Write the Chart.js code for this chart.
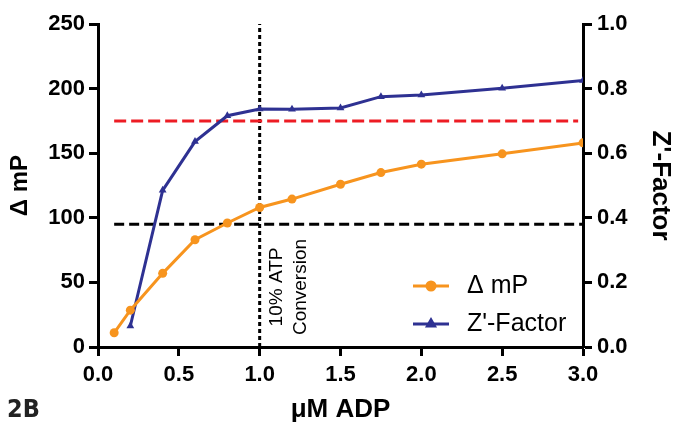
<!DOCTYPE html>
<html lang="en">
<head>
    <meta charset="utf-8">
    <title>Delta mP and Z'-Factor vs ADP</title>
    <script src="https://cdn.jsdelivr.net/npm/chart.js"></script>
    <style>
        html, body { margin: 0; padding: 0; background: #fff; }
    </style>
</head>
<body>
  <canvas id="myChart" width="678" height="426"></canvas>

  <script>

    // values
    const adp = [0.1, 0.2, 0.4, 0.6, 0.8, 1.0, 1.2, 1.5, 1.75, 2.0, 2.5, 3.0];
    const deltaMP = [11, 28.5, 57, 83, 96, 108, 114.5, 126, 135, 141.5, 149.5, 158];

    const zAdp = [0.2, 0.4, 0.6, 0.8, 1.0, 1.2, 1.5, 1.75, 2.0, 2.5, 3.0];
    const zFactor = [0.065, 0.485, 0.636, 0.716, 0.737, 0.736, 0.740, 0.775, 0.780, 0.801, 0.825];

    // reference lines
    const zCutoffX = [0.1, 2.97];   // red, on the mP axis
    const zCutoffY = 175;
    const mpCutoffX = [0.1, 3.0];   // black
    const mpCutoffY = 95;
    const conversionX = 1.0;        // 10% ATP conversion
    const conversionY = [0, 250];

    const xTicks = [0, 0.5, 1.0, 1.5, 2.0, 2.5, 3.0];
    const leftTicks = [0, 50, 100, 150, 200, 250];
    const rightTicks = [0, 0.2, 0.4, 0.6, 0.8, 1.0];

    const orange = '#F7941E';
    const blue = '#2E3192';
    const red = '#ED1C24';
    const fam = "'Liberation Sans', Arial, Helvetica, sans-serif";

    const pairs = (xs, ys) => xs.map((x, i) => ({ x: x, y: Array.isArray(ys) ? ys[i] : ys }));

    const axisGrid = { drawOnChartArea: false, drawTicks: true, tickLength: 9, tickWidth: 3, color: '#000' };
    const axisBorder = { display: true, width: 3, color: '#000' };
    const tickFont = { family: fam, size: 22, weight: 'bold' };

    // legend, annotation and panel label
    const extras = {
        id: 'extras',
        afterDatasetsDraw(chart) {
            const ctx = chart.ctx;
            ctx.save();

            // legend rows
            const rows = [
                { label: '\u0394 mP', color: orange, style: 'circle', y: 286 },
                { label: "Z'-Factor", color: blue, style: 'triangle', y: 324 }
            ];
            rows.forEach(r => {
                ctx.strokeStyle = r.color;
                ctx.fillStyle = r.color;
                ctx.lineWidth = 3;
                ctx.beginPath();
                ctx.moveTo(413, r.y);
                ctx.lineTo(449, r.y);
                ctx.stroke();
                Chart.helpers.drawPoint(ctx, { pointStyle: r.style, radius: 4, borderWidth: 1 }, 431, r.y);
                ctx.fillStyle = '#000';
                ctx.font = '25px ' + fam;
                ctx.textAlign = 'left';
                ctx.textBaseline = 'middle';
                ctx.fillText(r.label, 467, r.y);
            });

            // vertical note next to the dotted line
            ctx.save();
            ctx.translate(277, 287);
            ctx.rotate(-Math.PI / 2);
            ctx.font = '19px ' + fam;
            ctx.textAlign = 'center';
            ctx.textBaseline = 'middle';
            ctx.fillStyle = '#000';
            ctx.fillText('10% ATP', 0, 0);
            ctx.fillText('Conversion', 0, 24);
            ctx.restore();

            // panel label
            ctx.font = "bold 25px 'Liberation Sans Narrow', 'DejaVu Sans Condensed', " + fam;
            ctx.textAlign = 'left';
            ctx.textBaseline = 'middle';
            ctx.fillStyle = '#222';
            ctx.fillText('2B', 7, 410);

            ctx.restore();
        }
    };

    new Chart(document.getElementById('myChart'), {
        type: 'line',
        data: {
            datasets: [
                {
                    label: '\u0394 mP',
                    data: pairs(adp, deltaMP),
                    yAxisID: 'y',
                    borderColor: orange,
                    backgroundColor: orange,
                    borderWidth: 3,
                    pointStyle: 'circle',
                    pointRadius: 4.5,
                    pointBorderWidth: 0,
                    order: 0
                },
                {
                    label: "Z'-Factor",
                    data: pairs(zAdp, zFactor),
                    yAxisID: 'y2',
                    borderColor: blue,
                    backgroundColor: blue,
                    borderWidth: 3,
                    pointStyle: 'triangle',
                    pointRadius: 4.5,
                    pointBorderWidth: 0,
                    order: 0
                },
                {
                    label: 'cutoff red',
                    data: pairs(zCutoffX, zCutoffY),
                    yAxisID: 'y',
                    borderColor: red,
                    borderWidth: 3,
                    borderDash: [12, 5],
                    pointRadius: 0,
                    order: 1
                },
                {
                    label: 'cutoff black',
                    data: pairs(mpCutoffX, mpCutoffY),
                    yAxisID: 'y',
                    borderColor: '#000',
                    borderWidth: 3,
                    borderDash: [10, 5],
                    pointRadius: 0,
                    order: 1
                },
                {
                    label: 'conversion',
                    data: pairs([conversionX, conversionX], conversionY),
                    yAxisID: 'y',
                    borderColor: '#000',
                    borderWidth: 3,
                    borderDash: [4, 3],
                    pointRadius: 0,
                    order: 1
                }
            ]
        },
        options: {
            responsive: false,
            animation: false,
            layout: { padding: { top: 24, left: 0, right: 0, bottom: 0 } },
            plugins: {
                legend: { display: false },
                tooltip: { enabled: false }
            },
            scales: {
                x: {
                    type: 'linear',
                    min: 0,
                    max: 3,
                    afterBuildTicks: s => { s.ticks = xTicks.map(v => ({ value: v })); },
                    afterFit: s => { s.height = 79; },
                    ticks: { color: '#000', font: tickFont, padding: 6, maxRotation: 0, callback: v => v.toFixed(1) },
                    grid: axisGrid,
                    border: axisBorder,
                    title: { display: true, text: '\u03BCM ADP', color: '#000', font: { family: fam, size: 26, weight: 'bold' }, padding: { bottom: 1 } }
                },
                y: {
                    position: 'left',
                    min: 0,
                    max: 250,
                    afterBuildTicks: s => { s.ticks = leftTicks.map(v => ({ value: v })); },
                    afterFit: s => { s.width = 98; },
                    ticks: { color: '#000', font: tickFont, padding: 4 },
                    grid: axisGrid,
                    border: axisBorder,
                    title: { display: true, text: '\u0394 mP', color: '#000', font: { family: fam, size: 24, weight: 'bold' }, padding: { top: 6 } }
                },
                y2: {
                    position: 'right',
                    min: 0,
                    max: 1,
                    afterBuildTicks: s => { s.ticks = rightTicks.map(v => ({ value: v })); },
                    afterFit: s => { s.width = 95; },
                    ticks: { color: '#000', font: tickFont, padding: 5, callback: v => v.toFixed(1) },
                    grid: axisGrid,
                    border: axisBorder,
                    title: { display: true, text: "Z'-Factor", color: '#000', font: { family: fam, size: 26, weight: 'bold' }, padding: { top: 2 } }
                }
            }
        },
        plugins: [extras]
    });
  </script>
</body>
</html>
